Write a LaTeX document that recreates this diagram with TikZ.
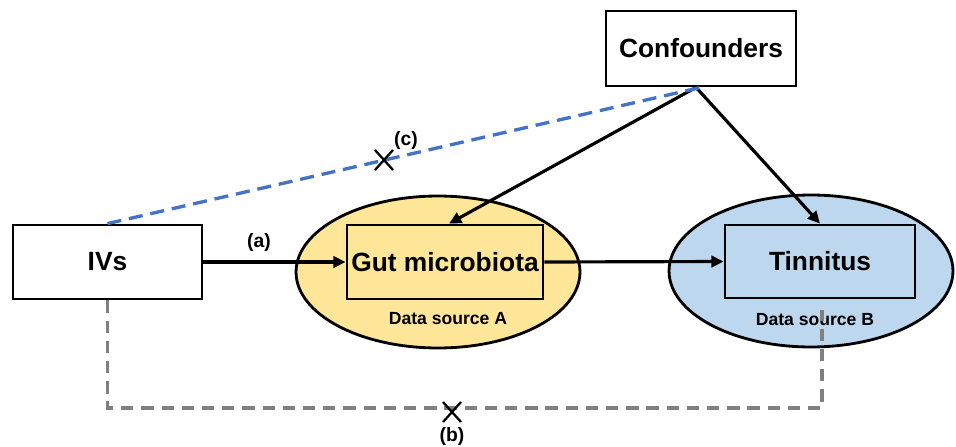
\documentclass[tikz,border=0pt]{standalone}
\usepackage{fontspec}
\setmainfont{Liberation Sans}
\usetikzlibrary{arrows.meta,shapes.geometric}

\definecolor{linkblue}{RGB}{68,114,196}
\definecolor{linkgrey}{RGB}{128,128,128}
\definecolor{fillyellow}{RGB}{255,230,153}
\definecolor{fillblue}{RGB}{189,215,238}

\tikzset{
  box/.style={draw=black, line width=1.6pt, fill=white, inner sep=0pt,
    font=\fontsize{15}{18}\selectfont\bfseries},
  source/.style={ellipse, draw=black, line width=1.6pt, inner sep=0pt,
    minimum width=5.68cm, minimum height=3.04cm},
  srclabel/.style={font=\fontsize{10}{12}\selectfont\bfseries},
  linklabel/.style={font=\fontsize{11}{13}\selectfont\bfseries},
  causal/.style={draw=black, line width=1.8pt,
    -{Triangle[length=7pt,width=6.5pt]}},
  pleio/.style={draw=linkblue, line width=1.9pt, dash pattern=on 8pt off 4.5pt},
  direct/.style={draw=linkgrey, line width=1.9pt, dash pattern=on 7pt off 4.5pt},
  cross/.style={draw=black, line width=1.3pt}
}

\begin{document}
\begin{tikzpicture}[x=0.02cm, y=-0.02cm]
  \useasboundingbox (0,0) rectangle (956,446);

  % data sources
  \node[source, fill=fillyellow] (ellA) at (438,272) {};
  \node[source, fill=fillblue] (ellB) at (811,271) {};
  \node[srclabel] (srcA) at (448,319) {Data source A};
  \node[srclabel] (srcB) at (815,320) {Data source B};

  % variables
  \node[box, minimum width=3.78cm, minimum height=1.48cm] (ivs) at (107.5,262) {IVs};
  \node[box, minimum width=3.8cm, minimum height=1.5cm] (conf) at (701,48.5) {Confounders};
  \node[box, fill=fillyellow, minimum width=3.92cm, minimum height=1.48cm] (gut) at (445,262) {Gut microbiota};
  \node[box, fill=fillblue, minimum width=3.8cm, minimum height=1.46cm] (tin) at (820,261.5) {Tinnitus};

  % causal paths
  \draw[causal] (ivs.east) -- (gut.west);
  \draw[causal] (gut.east) -- (tin.west);
  \draw[causal] ([xshift=-0.1cm]conf.south) -- ([xshift=0.08cm]gut.north);
  \draw[causal] ([xshift=-0.1cm]conf.south) -- (tin.north);
  \node[linklabel] (la) at (259,243) {(a)};

  % pleiotropic path through confounders
  \draw[pleio] (ivs.north) -- (conf.south);
  \coordinate (xc) at (384,160);
  \draw[cross] ([shift={(-9,-10)}]xc) -- ([shift={(9,10)}]xc);
  \draw[cross] ([shift={(-9,10)}]xc) -- ([shift={(9,-10)}]xc);
  \node[linklabel] (lc) at (406,141) {(c)};

  % direct path from IVs to outcome
  \coordinate (bL) at (107.5,408);
  \coordinate (bR) at (822,408);
  \coordinate (bTop) at (822,310);
  \draw[direct] (ivs.south) -- (bL) -- (bR) -- (bTop);
  \coordinate (xb) at (452,412);
  \draw[cross] ([shift={(-9,-10)}]xb) -- ([shift={(9,10)}]xb);
  \draw[cross] ([shift={(-9,10)}]xb) -- ([shift={(9,-10)}]xb);
  \node[linklabel] (lb) at (452,436) {(b)};
\end{tikzpicture}
\end{document}
